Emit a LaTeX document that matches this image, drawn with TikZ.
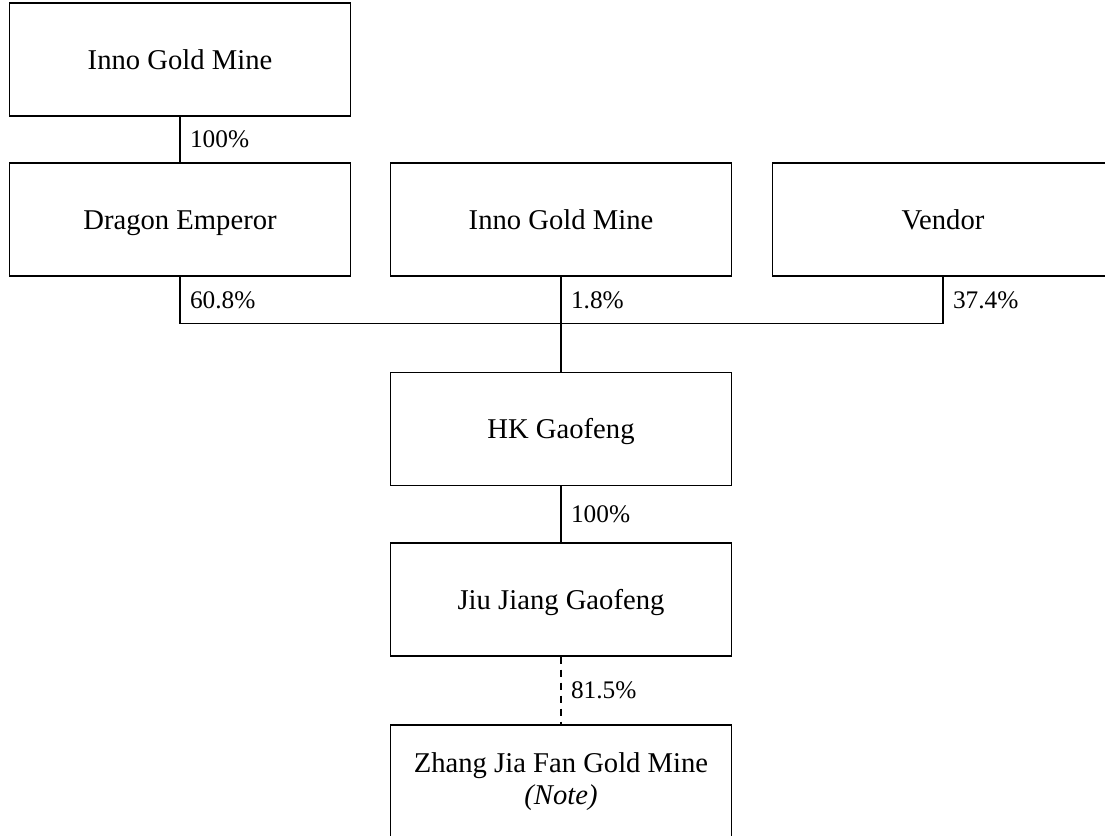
\documentclass[tikz,border=0pt]{standalone}
\usepackage{fontspec}
\setmainfont{Liberation Serif}
\usetikzlibrary{calc}
\tikzstyle{company}=[draw, line width=0.8pt, text centered,
  minimum width=6.82cm, minimum height=2.26cm, inner sep=0pt,
  text height=2.4ex, text depth=0ex,
  font=\fontsize{16.3}{17.8}\selectfont]
\tikzstyle{share}=[font=\fontsize{14.4}{16}\selectfont, xshift=2pt]

\begin{document}
\begin{tikzpicture}
  \useasboundingbox (0,0) rectangle (22.1,-16.7);
  \clip (0,0) rectangle (22.1,-16.7);

  \node(parent)[company] at (3.6,-1.19) {Inno Gold Mine};

  \path(parent)+(0,-3.2) node(dragon)[company]{Dragon Emperor};
  \draw[line width=0.8pt] (parent.south) -- (dragon.north)
  node[midway, right, share]{100\%};

  \path(dragon)+(7.62,0) node(inno)[company]{Inno Gold Mine};
  \path(inno)+(7.64,0) node(vendor)[company]{Vendor};

  \path(inno)+(0,-4.19) node(hk)[company]{HK Gaofeng};
  \coordinate (bus) at ($(dragon.south)+(0,-0.94)$);
  \draw[line width=0.8pt] (dragon.south) -- (bus)
  node[midway, right, share]{60.8\%};
  \draw[line width=0.8pt] (bus) -| (vendor.south)
  node[pos=0.75, right, share]{37.4\%};
  \draw[line width=0.8pt] (inno.south) -- (inno.south |- bus)
  node[midway, right, share]{1.8\%};
  \draw[line width=0.8pt] (inno.south |- bus) -- (hk.north);

  \path(hk)+(0,-3.41) node(jiujiang)[company]{Jiu Jiang Gaofeng};
  \draw[line width=0.8pt] (hk.south) -- (jiujiang.north)
  node[midway, right, share]{100\%};

  \path(jiujiang)+(0,-3.64) node(zhang)[company,align=center,
    text height=, text depth=]{
    Zhang Jia Fan Gold Mine\\
    \textit{(Note)}
  };
  \draw[line width=0.8pt, dash pattern=on 4pt off 3.4pt]
  (jiujiang.south) -- (zhang.north)
  node[midway, right, share]{81.5\%};
\end{tikzpicture}
\end{document}
